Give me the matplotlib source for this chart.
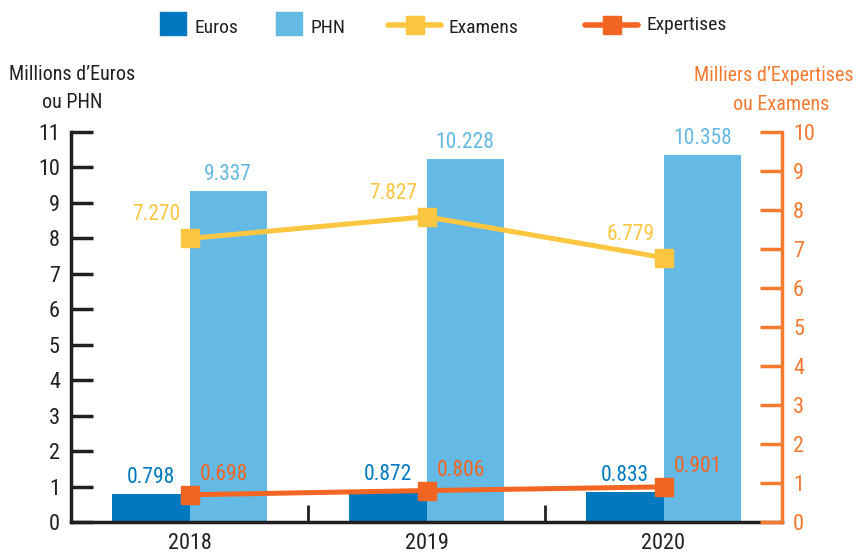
import matplotlib
matplotlib.use("Agg")
import matplotlib.pyplot as plt
from matplotlib import font_manager as fm
from matplotlib.lines import Line2D
from matplotlib.patches import Rectangle
import numpy as np

# pick a narrow sans face if one is installed
def pick_narrow():
    prefs = ["Roboto Condensed", "Open Sans Condensed", "Liberation Sans Narrow",
             "DejaVu Sans Condensed", "DejaVu Sans"]
    entries = fm.fontManager.ttflist
    narrow = [f for f in entries
              if ("condensed" in str(f.stretch).lower() or "Condensed" in f.name
                  or "Narrow" in f.name) and f.weight in (400, "normal", "regular")
              and f.style == "normal"]
    for p in prefs:
        for f in narrow:
            if f.name == p:
                return f.name, f.stretch
    if narrow:
        return narrow[0].name, narrow[0].stretch
    return "DejaVu Sans", "normal"

fam, stretch = pick_narrow()
plt.rcParams['font.family'] = [fam, 'DejaVu Sans']
plt.rcParams['font.stretch'] = stretch

years = ["2018", "2019", "2020"]
euros = [0.798, 0.872, 0.833]
phn = [9.337, 10.228, 10.358]
examens = [7.270, 7.827, 6.779]
expertises = [0.698, 0.806, 0.901]

c_euros = "#0079C1"
c_phn = "#64B9E5"
c_exam = "#FDC640"
c_expert = "#F26522"
c_right = "#F47A30"
c_dark = "#231F20"

fig = plt.figure(figsize=(8.56, 5.55), dpi=100)
ax = fig.add_axes([71 / 856, 33 / 555, (782 - 71) / 856, (423 - 33) / 555])
ax2 = ax.twinx()

x = np.arange(len(years))
w = 0.327
ax.bar(x - w / 2, euros, w, color=c_euros, zorder=2)
ax.bar(x + w / 2, phn, w, color=c_phn, zorder=2)
ax.set_xlim(-0.5, 2.5)
ax.set_ylim(0, 11)
ax2.set_ylim(0, 10)

ax2.plot(x, examens, color=c_exam, lw=3.6, marker="s", ms=12.5, zorder=3)
ax2.plot(x, expertises, color=c_expert, lw=3.6, marker="s", ms=12.5, zorder=3)

fs = 15.5
for i in range(len(years)):
    ax.annotate(f"{euros[i]:.3f}", (x[i] - w / 2, euros[i]), xytext=(0, 6),
                textcoords="offset pixels", ha="center", va="bottom",
                color=c_euros, fontsize=fs)
    ax.annotate(f"{phn[i]:.3f}", (x[i] + w / 2, phn[i]), xytext=(0, 6),
                textcoords="offset pixels", ha="center", va="bottom",
                color=c_phn, fontsize=fs)
    ax2.annotate(f"{examens[i]:.3f}", (x[i], examens[i]), xytext=(-9, 13),
                 textcoords="offset pixels", ha="right", va="bottom",
                 color=c_exam, fontsize=fs)
    ax2.annotate(f"{expertises[i]:.3f}", (x[i], expertises[i]), xytext=(10, 10),
                 textcoords="offset pixels", ha="left", va="bottom",
                 color=c_expert, fontsize=fs)

# axes styling
ax.spines["top"].set_visible(False)
ax2.spines["top"].set_visible(False)
ax.spines["right"].set_visible(False)
ax2.spines["left"].set_visible(False)
ax2.spines["bottom"].set_visible(False)
ax.spines["left"].set_linewidth(2.5)
ax.spines["left"].set_color(c_dark)
ax.spines["bottom"].set_linewidth(2.5)
ax.spines["bottom"].set_color(c_dark)
ax2.spines["right"].set_linewidth(2.5)
ax2.spines["right"].set_color(c_right)

ax.set_yticks(range(0, 12))
ax.tick_params(axis="y", direction="in", length=16, width=2.5, color=c_dark,
               labelsize=16, labelcolor=c_dark, pad=8)
ax2.set_yticks(range(0, 11))
ax2.tick_params(axis="y", direction="in", length=16, width=2.5, color=c_right,
                labelsize=16, labelcolor=c_right, pad=8)

ax.set_xticks(x)
ax.set_xticklabels(years)
ax.tick_params(axis="x", length=0, labelsize=16, labelcolor=c_dark, pad=8)
ax.set_xticks([0.5, 1.5], minor=True)
ax.tick_params(axis="x", which="minor", direction="in", length=12, width=2, color=c_dark)

# axis titles
fig.text(72 / 856, 1 - 75 / 555, "Millions d\u2019Euros", ha="center", va="center",
         fontsize=14.5, color=c_dark)
fig.text(72 / 856, 1 - 103 / 555, "ou PHN", ha="center", va="center",
         fontsize=14.5, color=c_dark)
fig.text(854 / 856, 1 - 76 / 555, "Milliers d\u2019Expertises", ha="right", va="center",
         fontsize=14.5, color=c_right)
fig.text(781 / 856, 1 - 104 / 555, "ou Examens", ha="center", va="center",
         fontsize=14.5, color=c_right)

# legend
def px(xp, yp):
    return xp / 856, 1 - yp / 555

for (x0, label, col) in [(160, "Euros", c_euros), (276, "PHN", c_phn)]:
    fx, fy = px(x0, 35)
    fig.patches.append(Rectangle((fx, fy), 26 / 856, 23 / 555, color=col,
                                 transform=fig.transFigure, figure=fig))
    tx, ty = px(x0 + 35, 28)
    fig.text(tx, ty, label, ha="left", va="center", fontsize=14, color=c_dark)

for (x0, ytxt, label, col) in [(388, 28, "Examens", c_exam), (585, 25, "Expertises", c_expert)]:
    x1, y1 = px(x0, 25)
    x2, _ = px(x0 + 53, 25)
    fig.add_artist(Line2D([x1, x2], [y1, y1], color=col, lw=4, transform=fig.transFigure,
                          solid_capstyle="round"))
    fig.add_artist(Line2D([(x1 + x2) / 2], [y1], color=col, marker="s", ms=12.5,
                          transform=fig.transFigure))
    tx, ty = px(x0 + 61, ytxt)
    fig.text(tx, ty, label, ha="left", va="center", fontsize=14, color=c_dark)

fig.savefig("out.png", dpi=100)
